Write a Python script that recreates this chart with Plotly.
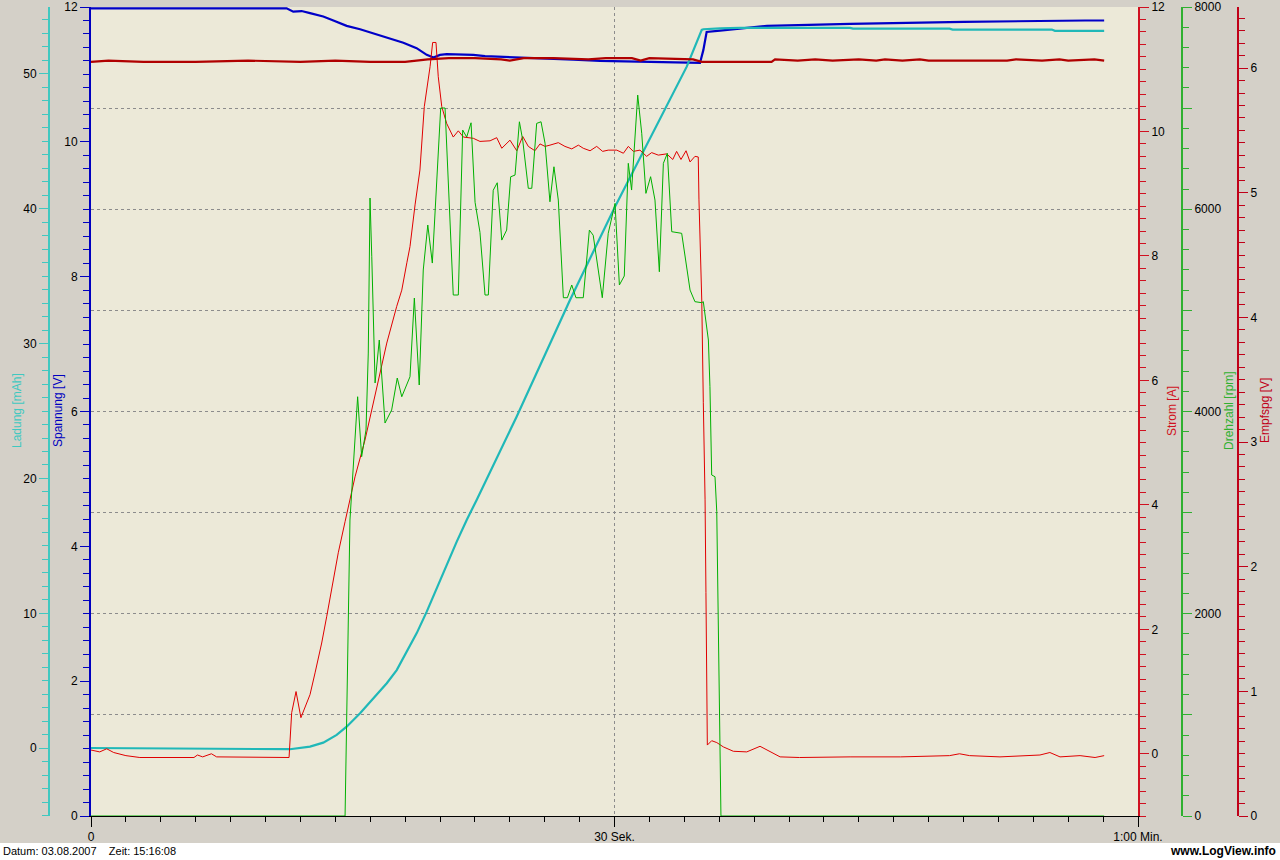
import plotly.graph_objects as go

# ---------------- data (time in seconds) ----------------
spannung_t = [0, 11.21, 11.59, 12.07, 12.55, 13.31, 13.89, 14.65, 15.42, 16.18, 16.95, 17.90, 18.66,
              19.24, 19.62, 20.00, 20.38, 21.24, 21.91, 22.58, 23.82, 24.58, 26.11, 27.64, 29.17,
              31.08, 32.22, 33.37, 34.90, 35.09, 35.28, 36.05, 37.19, 38.74, 43.50, 47.71, 50.01,
              56.97, 58.06]
spannung_v = [11.98, 11.98, 11.93, 11.94, 11.91, 11.86, 11.80, 11.72, 11.67, 11.61, 11.55, 11.47, 11.39,
              11.29, 11.25, 11.29, 11.30, 11.30, 11.29, 11.27, 11.26, 11.25, 11.24, 11.22, 11.20,
              11.19, 11.18, 11.17, 11.17, 11.36, 11.63, 11.65, 11.68, 11.72, 11.75, 11.77, 11.78,
              11.80, 11.80]

ladung_t = [0, 6.25, 11.40, 12.55, 13.31, 14.08, 14.65, 15.42, 16.18, 16.95, 17.52, 18.09, 18.66,
            19.24, 19.81, 20.38, 20.96, 21.53, 22.10, 24.39, 27.45, 30.03, 32.80, 34.14, 35.00,
            35.09, 36.05, 37.19, 43.50, 43.67, 49.20, 49.38, 55.06, 55.24, 58.06]
ladung_mah = [0.02, -0.05, -0.07, 0.12, 0.42, 0.99, 1.60, 2.59, 3.71, 4.82, 5.80, 7.16, 8.52,
              10.13, 11.86, 13.59, 15.32, 16.92, 18.41, 24.58, 33.23, 40.15, 47.07, 50.53, 53.25,
              53.30, 53.37, 53.40, 53.40, 53.35, 53.35, 53.28, 53.28, 53.18, 53.18]

strom_t = [0, 0.5, 0.9, 1.3, 2.0, 2.8, 5.9, 6.1, 6.4, 6.9, 7.2, 11.35, 11.50, 11.75, 12.03, 12.55,
           12.84, 13.22, 13.51, 13.79, 14.17, 14.56, 14.84, 15.13, 15.70, 16.37, 16.95, 17.52,
           17.81, 18.10, 18.28, 18.57, 18.85, 19.10, 19.43, 19.58, 19.77, 19.90, 20.10, 20.38,
           20.76, 21.05, 21.34, 21.91, 22.29, 22.87, 23.25, 23.54, 24.01, 24.40, 24.74, 25.06,
           25.44, 25.73, 26.02, 26.30, 26.78, 27.16, 27.55, 27.93, 28.21, 28.60, 28.98, 29.32,
           29.64, 30.13, 30.51, 30.79, 31.08, 31.46, 31.84, 32.13, 32.51, 32.99, 33.34, 33.56,
           33.81, 34.10, 34.33, 34.61, 34.80, 34.84, 35.00, 35.09, 35.19, 35.24, 35.32, 35.57,
           35.86, 36.24, 36.81, 37.58, 38.34, 39.49, 40.60, 43.50, 46.40, 49.20, 49.77, 50.35,
           52.09, 54.38, 54.95, 55.53, 56.68, 57.54, 58.06]
strom_a = [0.06, 0.03, 0.08, 0.02, -0.03, -0.06, -0.06, -0.02, -0.05, 0.00, -0.05, -0.06, 0.66, 1.00,
           0.58, 0.95, 1.30, 1.78, 2.21, 2.67, 3.23, 3.73, 4.08, 4.45, 5.04, 5.90, 6.60, 7.19, 7.45,
           7.89, 8.15, 8.82, 9.38, 10.40, 11.04, 11.43, 11.43, 10.88, 10.40, 10.13, 9.91, 10.01,
           9.91, 9.89, 9.84, 9.85, 9.90, 9.73, 9.86, 9.69, 9.92, 9.76, 9.69, 9.80, 9.76, 9.78, 9.82,
           9.76, 9.72, 9.78, 9.73, 9.69, 9.76, 9.68, 9.70, 9.70, 9.65, 9.76, 9.68, 9.70, 9.60, 9.66,
           9.62, 9.64, 9.55, 9.68, 9.55, 9.69, 9.51, 9.60, 9.59, 8.90, 7.29, 5.64, 4.08, 2.59, 0.14,
           0.21, 0.18, 0.11, 0.04, 0.03, 0.12, -0.05, -0.06, -0.05, -0.05, -0.03, 0.00, -0.03,
           -0.05, -0.02, 0.02, -0.05, -0.03, -0.06, -0.03]

drehzahl_t = [0, 14.56, 14.84, 15.28, 15.51, 15.76, 15.89, 15.99, 16.09, 16.28, 16.52, 16.85, 17.23,
              17.55, 17.81, 18.28, 18.53, 18.81, 19.04, 19.30, 19.56, 20.04, 20.29, 20.76, 21.05,
              21.30, 21.53, 21.78, 22.01, 22.29, 22.58, 22.77, 23.05, 23.28, 23.54, 23.82, 24.05,
              24.30, 24.55, 24.74, 25.06, 25.26, 25.54, 25.79, 26.02, 26.30, 26.53, 26.78, 27.07,
              27.30, 27.55, 27.79, 28.21, 28.56, 28.78, 29.30, 29.64, 30.03, 30.28, 30.56, 30.79,
              30.98, 31.33, 31.56, 31.80, 32.07, 32.32, 32.57, 32.80, 33.03, 33.28, 33.85, 34.33,
              34.61, 35.00, 35.09, 35.38, 35.47, 35.57, 35.76, 35.86, 35.95, 36.05, 36.10, 58.06]
drehzahl_rpm = [0, 0, 2927, 4146, 3553, 3817, 4578, 6111, 5530, 4282, 4707, 3886, 4015, 4331, 4146,
                4344, 5122, 4262, 5399, 5844, 5468, 7001, 7001, 5152, 5152, 6783, 6714, 6855, 6069,
                5772, 5152, 5152, 6188, 6262, 5695, 5794, 6321, 6338, 6865, 6684, 6207, 6207, 6849,
                6865, 6652, 6074, 6420, 6091, 5125, 5125, 5251, 5125, 5125, 5794, 5743, 5125, 5762,
                6058, 5251, 5340, 6454, 6190, 7129, 6751, 6157, 6322, 6091, 5382, 6454, 6553, 5778,
                5762, 5201, 5086, 5076, 5086, 4707, 4245, 3372, 3355, 3009, 1711, 326, 0, 0]

empf_t = [0, 1, 3, 6, 9, 12, 14, 16, 18, 19.3, 20.5, 22, 23.5, 24, 24.8, 26.5, 28.5, 29.5, 31, 31.5,
          32, 34.5, 35, 37, 39, 39.2, 40.5, 41.5, 42.5, 44, 45, 45.5, 46.5, 47.5, 48, 50, 52.5, 53,
          54.5, 55.5, 56, 57.5, 58.06]
empf_v = [6.05, 6.06, 6.05, 6.05, 6.06, 6.05, 6.06, 6.05, 6.05, 6.07, 6.08, 6.08, 6.07, 6.06, 6.08,
          6.08, 6.07, 6.08, 6.08, 6.06, 6.08, 6.07, 6.05, 6.05, 6.05, 6.07, 6.06, 6.07, 6.06, 6.07,
          6.06, 6.07, 6.06, 6.07, 6.06, 6.06, 6.06, 6.07, 6.06, 6.07, 6.06, 6.07, 6.06]

x_tickvals = [0, 30, 60]
x_ticktext = ["0", "30 Sek.", "1:00 Min."]
rpm_tickvals = [0, 1000, 2000, 3000, 4000, 5000, 6000, 7000, 8000]
rpm_ticktext = ["0", "", "2000", "", "4000", "", "6000", "", "8000"]

# ---------------- styling ----------------
W, H = 1280, 860
X0, X1 = 91 / W, 1138 / W
Y0, Y1 = (H - 816) / H, (H - 7) / H

BLUE = "#0000C8"
CYAN = "#20B8B8"
RED = "#E00000"
GREEN = "#00B000"
DARKRED = "#B00000"
AX_CYAN = "#40C8C0"
AX_BLUE = "#0000C0"
AX_RED = "#D01020"
AX_GREEN = "#30B030"
AX_DRED = "#C00018"
FONT = "Liberation Sans, Arial, sans-serif"

fig = go.Figure()
fig.add_trace(go.Scatter(x=drehzahl_t, y=drehzahl_rpm, yaxis="y4", mode="lines",
                         line=dict(color=GREEN, width=1), name="Drehzahl"))
fig.add_trace(go.Scatter(x=strom_t, y=strom_a, yaxis="y3", mode="lines",
                         line=dict(color=RED, width=1), name="Strom"))
fig.add_trace(go.Scatter(x=empf_t, y=empf_v, yaxis="y5", mode="lines",
                         line=dict(color=DARKRED, width=2.2), name="Empfspg"))
fig.add_trace(go.Scatter(x=ladung_t, y=ladung_mah, yaxis="y2", mode="lines",
                         line=dict(color=CYAN, width=2.2), name="Ladung"))
fig.add_trace(go.Scatter(x=spannung_t, y=spannung_v, yaxis="y", mode="lines",
                         line=dict(color=BLUE, width=2.2), name="Spannung"))


def yax(color, rng, **kw):
    d = dict(range=rng, ticks="outside", ticklen=9, tickwidth=1, tickcolor=color,
             showline=True, linecolor=color, linewidth=2, showgrid=False, zeroline=False,
             automargin=False,
             tickfont=dict(family=FONT, size=12, color="black"), fixedrange=True)
    d.update(kw)
    return d


fig.update_layout(
    width=W, height=H, autosize=False,
    margin=dict(l=0, r=0, t=0, b=0, pad=0, autoexpand=False),
    paper_bgcolor="#D4D0C8",
    plot_bgcolor="#ECE9D8",
    showlegend=False,
    font=dict(family=FONT, size=12, color="black"),
    xaxis=dict(domain=[X0, X1], range=[0, 60], tickvals=x_tickvals, ticktext=x_ticktext,
               ticks="outside", ticklen=10, tickcolor="black", showline=True, linecolor="black",
               linewidth=1, showgrid=True, gridcolor="#8C8C8C", griddash="3px,3px", gridwidth=1,
               zeroline=False, automargin=False,
               minor=dict(dtick=2, tick0=0, ticks="outside", ticklen=5,
                          tickcolor="black", showgrid=False),
               tickfont=dict(family=FONT, size=12, color="black"), fixedrange=True),
    yaxis=yax(AX_BLUE, [0, 12], domain=[Y0, Y1], dtick=2, tick0=0, side="left",
              minor=dict(dtick=0.2, ticks="outside", ticklen=6, tickcolor=AX_BLUE)),
    yaxis2=yax(AX_CYAN, [-5.02, 54.95], overlaying="y", anchor="free", position=49 / W,
               side="left", dtick=10, tick0=0,
               minor=dict(dtick=1, tick0=0, ticks="outside", ticklen=6, tickcolor=AX_CYAN)),
    yaxis3=yax(AX_RED, [-1, 12], overlaying="y", anchor="x", side="right", dtick=2, tick0=0,
               minor=dict(dtick=0.2, tick0=0, ticks="outside", ticklen=6, tickcolor=AX_RED)),
    yaxis4=yax(AX_GREEN, [0, 8000], overlaying="y", anchor="free", position=1182 / W,
               side="right", tickvals=rpm_tickvals, ticktext=rpm_ticktext,
               showgrid=True, gridcolor="#8C8C8C", griddash="3px,3px", gridwidth=1,
               minor=dict(dtick=200, tick0=0, ticks="outside", ticklen=6, tickcolor=AX_GREEN)),
    yaxis5=yax(AX_DRED, [0, 6.49], overlaying="y", anchor="free", position=1238 / W,
               side="right", dtick=1, tick0=0,
               minor=dict(dtick=0.1, tick0=0, ticks="outside", ticklen=6, tickcolor=AX_DRED)),
)

# white footer strip
fig.add_shape(type="rect", xref="paper", yref="paper", x0=0, x1=1, y0=0, y1=17 / H,
              fillcolor="white", line=dict(width=0), layer="below")

ymid = 1 - 411 / H
titles = [("Ladung [mAh]", 17, AX_CYAN), ("Spannung [V]", 58, AX_BLUE),
          ("Strom [A]", 1172, AX_RED), ("Drehzahl [rpm]", 1229, AX_GREEN),
          ("Empfspg [V]", 1265, AX_DRED)]
for txt, px, col in titles:
    fig.add_annotation(text=txt, xref="paper", yref="paper", x=px / W, y=ymid,
                       textangle=-90, showarrow=False, xanchor="center", yanchor="middle",
                       font=dict(family=FONT, size=12, color=col))

fig.add_annotation(text="Datum: 03.08.2007\u00a0\u00a0\u00a0 Zeit: 15:16:08", xref="paper", yref="paper",
                   x=1 / W, y=(H - 851) / H, xanchor="left", yanchor="middle", showarrow=False,
                   font=dict(family=FONT, size=11, color="black"))
fig.add_annotation(text="<b>www.LogView.info</b>", xref="paper", yref="paper",
                   x=1278 / W, y=(H - 851) / H, xanchor="right", yanchor="middle", showarrow=False,
                   font=dict(family=FONT, size=12, color="black"))

post_js = (
    "var de=document.documentElement, bd=document.body;"
    "de.style.margin='0';de.style.padding='0';de.style.overflow='hidden';"
    "bd.style.margin='0';bd.style.padding='0';bd.style.overflow='hidden';"
    "var gd=document.getElementById('{plot_id}');"
    "gd.style.position='fixed';gd.style.left='0px';gd.style.top='0px';gd.style.margin='0';"
)

fig.write_html("out.html", config={"displayModeBar": False, "responsive": False},
               post_script=post_js)
